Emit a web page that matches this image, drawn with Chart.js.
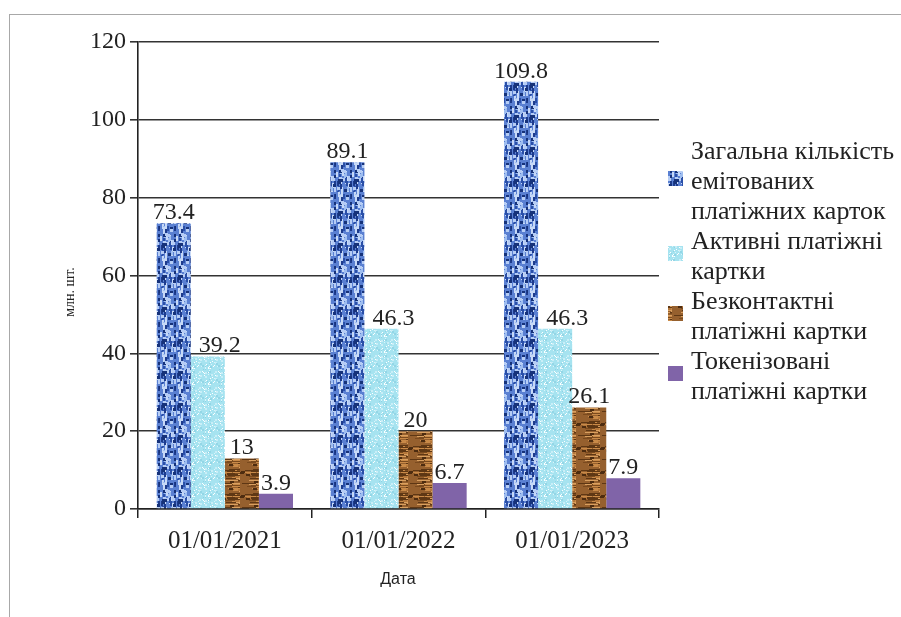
<!DOCTYPE html>
<html>
<head>
<meta charset="utf-8">
<script src="https://cdn.jsdelivr.net/npm/chart.js@4.4.1/dist/chart.umd.min.js"></script>
<style>
  body { margin: 0; background: #fff; }
  #wrap { position: relative; width: 901px; height: 617px; }
  #frame { position: absolute; left: 9px; top: 14px; right: 0; bottom: 0;
           border-left: 1.5px solid #a8a8a8; border-top: 1.5px solid #a8a8a8; }
  canvas { position: absolute; left: 0; top: 0; }
</style>
</head>
<body>
<div id="wrap">
  <div id="frame"></div>
  <canvas id="cardsChart" width="901" height="617"></canvas>
</div>
<script>
// Data
const dates = ["01/01/2021", "01/01/2022", "01/01/2023"];
const totalIssued = [73.4, 89.1, 109.8];
const activeCards = [39.2, 46.3, 46.3];
const contactless = [13, 20, 26.1];
const tokenized = [3.9, 6.7, 7.9];
const yTicks = [0, 20, 40, 60, 80, 100, 120];

const seriesNames = [
  ["Загальна кількість", "емітованих", "платіжних карток"],
  ["Активні платіжні", "картки"],
  ["Безконтактні", "платіжні картки"],
  ["Токенізовані", "платіжні картки"]
];

const SERIF = "'Liberation Serif', 'DejaVu Serif', serif";

// simple repeatable texture maker (style only)
function makeTexture(w, h, base, spots, seed) {
  const c = document.createElement("canvas");
  c.width = w; c.height = h;
  const g = c.getContext("2d");
  g.fillStyle = base;
  g.fillRect(0, 0, w, h);
  let s = seed;
  const next = () => { s = (s * 1103515245 + 12345) % 2147483648; return s / 2147483648; };
  spots.forEach(sp => {
    for (let i = 0; i < sp.count; i++) {
      g.fillStyle = sp.colors[Math.floor(next() * sp.colors.length)];
      const x = Math.floor(next() * w), y = Math.floor(next() * h);
      g.fillRect(x, y, sp.w, sp.h);
    }
  });
  return g.createPattern(c, "repeat");
}

const ctx = document.getElementById("cardsChart").getContext("2d");

const bluePat = makeTexture(16, 32, "#5a80d2", [
  { count: 40, w: 2, h: 5, colors: ["#1d3b8c", "#2a4fa8", "#9fbef0", "#c7d9f7"] },
  { count: 20, w: 3, h: 3, colors: ["#16327a", "#b6cdf5"] }
], 7);
const cyanPat = makeTexture(16, 16, "#a6e3f0", [
  { count: 40, w: 1, h: 1, colors: ["#d9f5fb", "#ffffff", "#8fd3e4"] },
  { count: 10, w: 2, h: 2, colors: ["#c9eef7", "#93d6e6"] }
], 11);
const brownPat = makeTexture(24, 24, "#96602e", [
  { count: 40, w: 14, h: 1, colors: ["#5e3714", "#c98a48", "#7a4a1e", "#d9a060"] },
  { count: 8, w: 4, h: 2, colors: ["#4d2c10", "#b5773a"] }
], 23);
const purple = "#8064a8";

const fills = [bluePat, cyanPat, brownPat, purple];
// Excel nudged the "active cards" labels a bit to the right
const labelShift = [0, 12, 0, 0];

const valueLabels = {
  id: "valueLabels",
  afterDatasetsDraw(chart) {
    const c = chart.ctx;
    c.save();
    c.font = "24px " + SERIF;
    c.fillStyle = "#222";
    c.textAlign = "center";
    c.textBaseline = "alphabetic";
    chart.data.datasets.forEach((ds, i) => {
      chart.getDatasetMeta(i).data.forEach((bar, j) => {
        c.fillText(String(ds.data[j]), bar.x + labelShift[i], bar.y - 4);
      });
    });
    c.restore();
  }
};

const sideLegend = {
  id: "sideLegend",
  afterDraw(chart) {
    const c = chart.ctx;
    c.save();
    c.font = "26px " + SERIF;
    c.fillStyle = "#222";
    c.textBaseline = "middle";
    let line = 0;
    seriesNames.forEach((lines, i) => {
      const y0 = 152 + line * 30;
      const mid = y0 + (lines.length - 1) * 15;
      c.fillStyle = fills[i];
      c.fillRect(668, mid - 11, 15, 15);
      c.fillStyle = "#222";
      lines.forEach((t, k) => c.fillText(t, 691, y0 + k * 30));
      line += lines.length;
    });
    // axis titles
    c.font = "14px " + SERIF;
    c.textAlign = "center";
    c.save();
    c.translate(70, 292);
    c.rotate(-Math.PI / 2);
    c.fillText("млн. шт.", 0, 0);
    c.restore();
    c.font = "16px 'Liberation Sans Narrow', 'Liberation Sans', sans-serif";
    c.fillText("Дата", 398, 580);
    c.restore();
  }
};

const chart = new Chart(ctx, {
  type: "bar",
  data: {
    labels: dates,
    datasets: [
      { label: seriesNames[0].join(" "), data: totalIssued, backgroundColor: bluePat },
      { label: seriesNames[1].join(" "), data: activeCards, backgroundColor: cyanPat },
      { label: seriesNames[2].join(" "), data: contactless, backgroundColor: brownPat },
      { label: seriesNames[3].join(" "), data: tokenized, backgroundColor: purple }
    ]
  },
  options: {
    responsive: false,
    animation: false,
    layout: { padding: { left: 0, top: 42, right: 242, bottom: 0 } },
    datasets: { bar: { barPercentage: 1.0, categoryPercentage: 0.785 } },
    plugins: { legend: { display: false }, tooltip: { enabled: false } },
    scales: {
      x: {
        offset: true,
        grid: { offset: true, drawOnChartArea: false, drawTicks: true, tickLength: 9, color: "#222", lineWidth: 1.5 },
        border: { display: true, color: "#222", width: 1.5 },
        ticks: { font: { family: SERIF, size: 25 }, color: "#222", padding: 8 },
        afterFit(scale) { scale.height = 108; }
      },
      y: {
        min: 0,
        max: 120,
        afterBuildTicks(scale) { scale.ticks = yTicks.map(v => ({ value: v })); },
        grid: { color: "#333", lineWidth: 1.6, tickLength: 8 },
        border: { display: true, color: "#222", width: 1.6 },
        ticks: { font: { family: SERIF, size: 24 }, color: "#222", padding: 4 },
        afterFit(scale) { scale.width = 138; }
      }
    }
  },
  plugins: [valueLabels, sideLegend]
});
</script>
</body>
</html>
